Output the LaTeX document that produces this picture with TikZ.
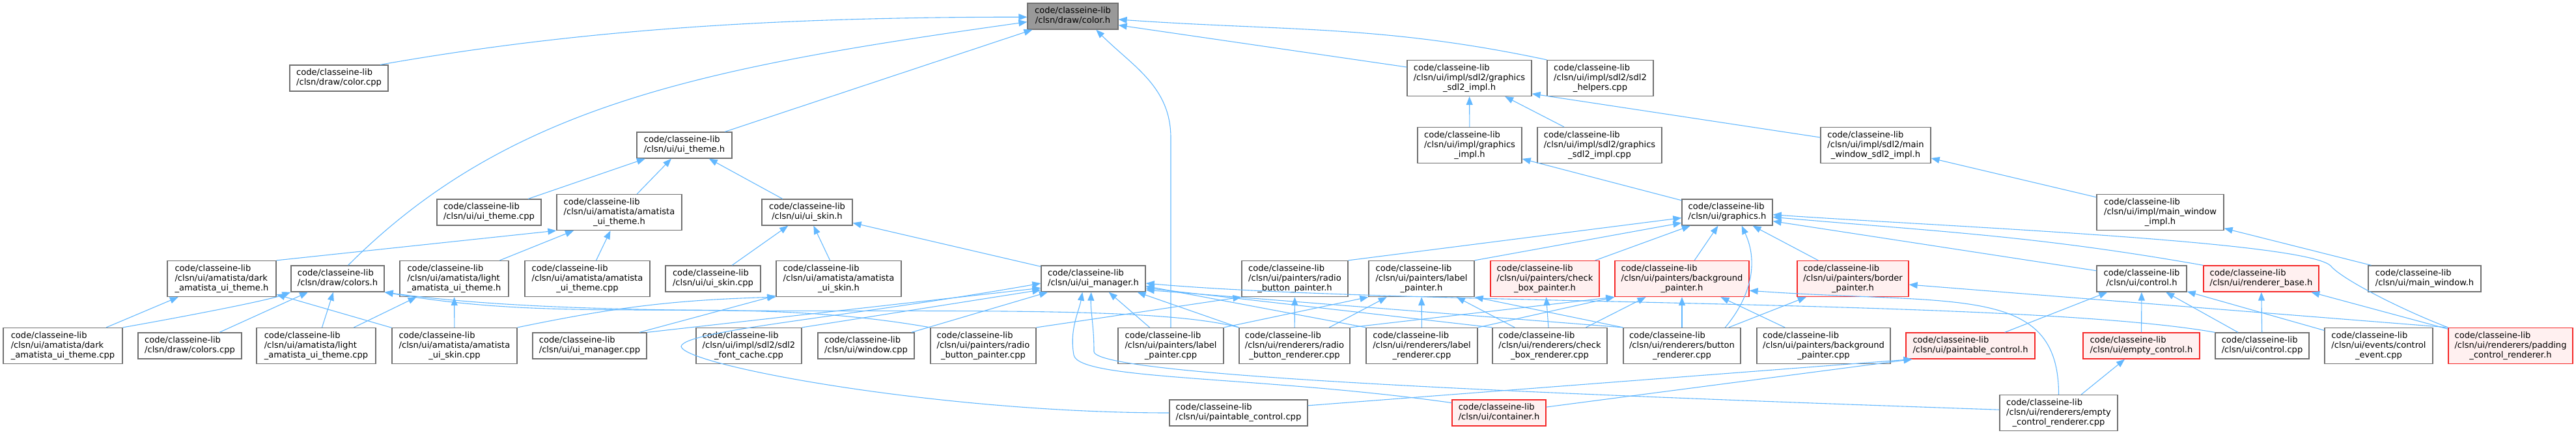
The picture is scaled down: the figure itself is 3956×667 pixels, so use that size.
\documentclass[tikz,border=0pt]{standalone}
\usepackage{fontspec}
\setmainfont{DejaVu Sans}
\usetikzlibrary{arrows.meta}
\definecolor{edgeblue}{RGB}{99,184,255}
\definecolor{boxgray}{RGB}{112,112,112}
\definecolor{rootfill}{RGB}{153,153,153}
\definecolor{cutred}{RGB}{245,40,40}
\definecolor{cutfill}{RGB}{255,240,240}
\newcommand{\lib}{code/classeine-lib}
\newcommand{\flabel}[2]{\begin{tabular}{@{}l@{}}#1\\\multicolumn{1}{@{}c@{}}{#2}\end{tabular}}

\begin{document}
\begin{tikzpicture}[
  x=1pt, y=1pt,
  file/.style={draw=boxgray, line width=1.3pt, fill=white, inner sep=0pt,
    minimum height=40pt, font=\fontsize{13.1}{15}\selectfont},
  tall/.style={minimum height=55pt},
  root/.style={fill=rootfill},
  cut/.style={draw=cutred, fill=cutfill},
  dep/.style={draw=edgeblue, line width=1.1pt, -{Triangle[length=13pt,width=10pt]}}
]
\useasboundingbox (0,0) rectangle (3956,-667);

% top
\node[file, root, minimum width=139pt] (colorh) at (1647.5,-25) {\flabel{\lib}{/clsn/draw/color.h}};
\node[file, minimum width=151pt] (colorcpp) at (520.5,-120) {\flabel{\lib}{/clsn/draw/color.cpp}};
\node[file, tall, minimum width=191pt] (gsdlh) at (2256.5,-120) {\flabel{\lib\\/clsn/ui/impl/sdl2/graphics}{\_sdl2\_impl.h}};
\node[file, tall, minimum width=163pt] (helpercpp) at (2457.5,-120) {\flabel{\lib\\/clsn/ui/impl/sdl2/sdl2}{\_helpers.cpp}};
\node[file, minimum width=146pt] (uithemeh) at (1051,-223) {\flabel{\lib}{/clsn/ui/ui\_theme.h}};
\node[file, tall, minimum width=160pt] (gimplh) at (2257,-223) {\flabel{\lib\\/clsn/ui/impl/graphics}{\_impl.h}};
\node[file, tall, minimum width=191pt] (gsdlcpp) at (2456.5,-223) {\flabel{\lib\\/clsn/ui/impl/sdl2/graphics}{\_sdl2\_impl.cpp}};
\node[file, tall, minimum width=169pt] (mwsdlh) at (2880.5,-223) {\flabel{\lib\\/clsn/ui/impl/sdl2/main}{\_window\_sdl2\_impl.h}};
\node[file, minimum width=160pt] (uithemecpp) at (751,-326) {\flabel{\lib}{/clsn/ui/ui\_theme.cpp}};
\node[file, tall, minimum width=192pt] (amathemeh) at (951,-326) {\flabel{\lib\\/clsn/ui/amatista/amatista}{\_ui\_theme.h}};
\node[file, minimum width=139pt] (uiskinh) at (1239.5,-326) {\flabel{\lib}{/clsn/ui/ui\_skin.h}};
\node[file, minimum width=139pt] (graphicsh) at (2652.5,-326) {\flabel{\lib}{/clsn/ui/graphics.h}};
\node[file, tall, minimum width=195pt] (mwimplh) at (3317.5,-326) {\flabel{\lib\\/clsn/ui/impl/main\_window}{\_impl.h}};

% headers row
\node[file, tall, minimum width=167pt] (darkh) at (340.5,-428) {\flabel{\lib\\/clsn/ui/amatista/dark}{\_amatista\_ui\_theme.h}};
\node[file, minimum width=143pt] (colorsh) at (518.5,-428) {\flabel{\lib}{/clsn/draw/colors.h}};
\node[file, tall, minimum width=167pt] (lighth) at (697.5,-428) {\flabel{\lib\\/clsn/ui/amatista/light}{\_amatista\_ui\_theme.h}};
\node[file, tall, minimum width=192pt] (amathemecpp) at (902,-428) {\flabel{\lib\\/clsn/ui/amatista/amatista}{\_ui\_theme.cpp}};
\node[file, minimum width=146pt] (uiskincpp) at (1095,-428) {\flabel{\lib}{/clsn/ui/ui\_skin.cpp}};
\node[file, tall, minimum width=192pt] (amaskinh) at (1288,-428) {\flabel{\lib\\/clsn/ui/amatista/amatista}{\_ui\_skin.h}};
\node[file, minimum width=160pt] (uimgrh) at (1679,-428) {\flabel{\lib}{/clsn/ui/ui\_manager.h}};
\node[file, tall, minimum width=163pt] (rbph) at (1988.5,-428) {\flabel{\lib\\/clsn/ui/painters/radio}{\_button\_painter.h}};
\node[file, tall, minimum width=162pt] (lph) at (2183,-428) {\flabel{\lib\\/clsn/ui/painters/label}{\_painter.h}};
\node[file, tall, cut, minimum width=167pt] (cbph) at (2372.5,-428) {\flabel{\lib\\/clsn/ui/painters/check}{\_box\_painter.h}};
\node[file, tall, cut, minimum width=206pt] (bgph) at (2583,-428) {\flabel{\lib\\/clsn/ui/painters/background}{\_painter.h}};
\node[file, tall, cut, minimum width=171pt] (borderh) at (2845.5,-428) {\flabel{\lib\\/clsn/ui/painters/border}{\_painter.h}};
\node[file, minimum width=138pt] (controlh) at (3289,-428) {\flabel{\lib}{/clsn/ui/control.h}};
\node[file, cut, minimum width=177pt] (rbaseh) at (3472.5,-428) {\flabel{\lib}{/clsn/ui/renderer\_base.h}};
\node[file, minimum width=173pt] (mwh) at (3723.5,-428) {\flabel{\lib}{/clsn/ui/main\_window.h}};

% sources row
\node[file, tall, minimum width=183pt] (darkcpp) at (96.5,-531) {\flabel{\lib\\/clsn/ui/amatista/dark}{\_amatista\_ui\_theme.cpp}};
\node[file, minimum width=159pt] (colorscpp) at (291.5,-531) {\flabel{\lib}{/clsn/draw/colors.cpp}};
\node[file, tall, minimum width=183pt] (lightcpp) at (485.5,-531) {\flabel{\lib\\/clsn/ui/amatista/light}{\_amatista\_ui\_theme.cpp}};
\node[file, tall, minimum width=192pt] (amaskincpp) at (698,-531) {\flabel{\lib\\/clsn/ui/amatista/amatista}{\_ui\_skin.cpp}};
\node[file, minimum width=175pt] (uimgrcpp) at (905.5,-531) {\flabel{\lib}{/clsn/ui/ui\_manager.cpp}};
\node[file, tall, minimum width=162pt] (fontcpp) at (1150,-531) {\flabel{\lib\\/clsn/ui/impl/sdl2/sdl2}{\_font\_cache.cpp}};
\node[file, minimum width=148pt] (windowcpp) at (1330,-531) {\flabel{\lib}{/clsn/ui/window.cpp}};
\node[file, tall, minimum width=162pt] (rbpcpp) at (1510,-531) {\flabel{\lib\\/clsn/ui/painters/radio}{\_button\_painter.cpp}};
\node[file, tall, minimum width=162pt] (lpcpp) at (1798,-531) {\flabel{\lib\\/clsn/ui/painters/label}{\_painter.cpp}};
\node[file, tall, minimum width=170pt] (rbrcpp) at (1988,-531) {\flabel{\lib\\/clsn/ui/renderers/radio}{\_button\_renderer.cpp}};
\node[file, tall, minimum width=171pt] (lrcpp) at (2183.5,-531) {\flabel{\lib\\/clsn/ui/renderers/label}{\_renderer.cpp}};
\node[file, tall, minimum width=176pt] (cbrcpp) at (2380,-531) {\flabel{\lib\\/clsn/ui/renderers/check}{\_box\_renderer.cpp}};
\node[file, tall, minimum width=180pt] (brcpp) at (2583,-531) {\flabel{\lib\\/clsn/ui/renderers/button}{\_renderer.cpp}};
\node[file, tall, minimum width=205pt] (bgpcpp) at (2800.5,-531) {\flabel{\lib\\/clsn/ui/painters/background}{\_painter.cpp}};
\node[file, cut, minimum width=198pt] (pch) at (3026,-531) {\flabel{\lib}{/clsn/ui/paintable\_control.h}};
\node[file, cut, minimum width=179pt] (ech) at (3288.5,-531) {\flabel{\lib}{/clsn/ui/empty\_control.h}};
\node[file, minimum width=144pt] (controlcpp) at (3474,-531) {\flabel{\lib}{/clsn/ui/control.cpp}};
\node[file, tall, minimum width=166pt] (ceventcpp) at (3653,-531) {\flabel{\lib\\/clsn/ui/events/control}{\_event.cpp}};
\node[file, tall, cut, minimum width=191pt] (paddingh) at (3855.5,-531) {\flabel{\lib\\/clsn/ui/renderers/padding}{\_control\_renderer.h}};

% bottom
\node[file, minimum width=212pt] (pccpp) at (1902,-634) {\flabel{\lib}{/clsn/ui/paintable\_control.cpp}};
\node[file, cut, minimum width=144pt] (containerh) at (2302,-634) {\flabel{\lib}{/clsn/ui/container.h}};
\node[file, tall, minimum width=181pt] (ecrcpp) at (3161.5,-634) {\flabel{\lib\\/clsn/ui/renderers/empty}{\_control\_renderer.cpp}};

\coordinate (padbend) at (3580,-409);
\coordinate (pcbend) at (1046,-532);
\coordinate (ctbend) at (1649,-545);
\coordinate (ecbend) at (1680,-540);

% color.h
\draw[dep] (colorcpp.18) .. controls +(10:300) and +(180:400) .. (colorh.181);
\draw[dep] (colorsh.52) .. controls +(45:350) and +(188:500) .. (colorh.187);
\draw[dep] (uithemeh) -- (colorh);
\draw[dep] (gsdlh.170) -- (colorh.349);
\draw[dep] (helpercpp.north west) to[out=168,in=-4] (colorh.356);
\draw[dep] (lpcpp.north) -- ++(0,291) to[out=90,in=-45] (colorh.330);

% themes and skins
\draw[dep] (uithemecpp) -- (uithemeh);
\draw[dep] (amathemeh) -- (uithemeh);
\draw[dep] (uiskinh) -- (uithemeh);
\draw[dep] (darkh.north east) -- (amathemeh.south west);
\draw[dep] (lighth) -- (amathemeh);
\draw[dep] (amathemecpp) -- (amathemeh);
\draw[dep] (uiskincpp) -- (uiskinh);
\draw[dep] (amaskinh) -- (uiskinh);
\draw[dep] (uimgrh) -- (uiskinh);
\draw[dep] (darkcpp) -- (darkh);
\draw[dep] (amaskincpp) -- (darkh);
\draw[dep] (lightcpp) -- (lighth);
\draw[dep] (amaskincpp) -- (lighth);
\draw[dep] (amaskincpp.north east) to[bend left=5] (amaskinh.south west);
\draw[dep] (uimgrcpp) -- (amaskinh);

% colors.h
\draw[dep] (darkcpp.north east) .. controls +(10:80) and +(200:40) .. (colorsh.south west);
\draw[dep] (colorscpp) -- (colorsh);
\draw[dep] (lightcpp) -- (colorsh);
\draw[dep] (rbpcpp.north west) .. controls +(170:300) and +(-10:300) .. (colorsh.south east);
\draw[dep] (rbrcpp.north west) .. controls +(165:200) and +(-8:400) .. (colorsh.south east);

% sdl2 impl
\draw[dep] (gimplh) -- (gsdlh);
\draw[dep] (gsdlcpp) -- (gsdlh);
\draw[dep] (mwsdlh.172) -- (gsdlh.-14);
\draw[dep] (graphicsh) -- (gimplh);
\draw[dep] (mwimplh) -- (mwsdlh);
\draw[dep] (mwh) -- (mwimplh);

% graphics.h
\draw[dep] (rbph.north east) -- (graphicsh.187);
\draw[dep] (lph.north east) -- (graphicsh.193);
\draw[dep] (cbph) -- (graphicsh);
\draw[dep] (bgph) -- (graphicsh);
\draw[dep] (borderh) -- (graphicsh);
\draw[dep] (controlh.170) -- (graphicsh.-11);
\draw[dep] (rbaseh.north west) to[out=170,in=-5] (graphicsh.-6);
\draw[dep] (paddingh.north west) .. controls +(159:80) and +(-50:25) .. (padbend)
  .. controls +(130:50) and +(-4:250) .. (graphicsh.-3);
\draw[dep] (brcpp.23) to[out=50,in=-65] (graphicsh.-43);

% ui_manager.h
\draw[dep] (uimgrcpp.north east) -- (uimgrh.190);
\draw[dep] (fontcpp.north east) -- (uimgrh.192);
\draw[dep] (windowcpp) -- (uimgrh);
\draw[dep] (pccpp.west) .. controls +(180:350) and +(-80:30) .. (pcbend)
  .. controls +(80:25) and +(190:300) .. (uimgrh.185);
\draw[dep] (lpcpp) -- (uimgrh);
\draw[dep] (rbrcpp.north west) -- (uimgrh.-17);
\draw[dep] (lrcpp.north west) -- (uimgrh.-8);
\draw[dep] (cbrcpp.north west) -- (uimgrh.-10);
\draw[dep] (brcpp.north west) -- (uimgrh.-12);
\draw[dep] (controlcpp.north west) .. controls +(170:300) and +(-5:400) .. (uimgrh.-5);
\draw[dep] (containerh.168) .. controls +(172:300) and +(-80:40) .. (ctbend)
  .. controls +(100:40) and +(-100:30) .. (uimgrh.-129);
\draw[dep] (ecrcpp.177) .. controls +(178:600) and +(-85:40) .. (ecbend)
  .. controls +(90:40) and +(-92:30) .. (uimgrh.-99);

% painters
\draw[dep] (rbpcpp.north east) -- (rbph.south west);
\draw[dep] (rbrcpp) -- (rbph);
\draw[dep] (lpcpp.north east) -- (lph.south west);
\draw[dep] (rbrcpp) -- (lph);
\draw[dep] (lrcpp) -- (lph);
\draw[dep] (cbrcpp) -- (lph);
\draw[dep] (brcpp.north west) -- (lph.south east);
\draw[dep] (cbrcpp) -- (cbph);
\draw[dep] (rbrcpp.north east) -- (bgph.south west);
\draw[dep] (lrcpp.north east) -- (bgph.south west);
\draw[dep] (cbrcpp) -- (bgph);
\draw[dep] (brcpp) -- (bgph);
\draw[dep] (bgpcpp) -- (bgph);
\draw[dep] (ecrcpp.north) .. controls +(90:170) and +(-4:320) .. (bgph.-10);
\draw[dep] (brcpp) -- (borderh);
\draw[dep] (paddingh.north west) -- (borderh.-6);

% controls
\draw[dep] (pch) -- (controlh);
\draw[dep] (ech) -- (controlh);
\draw[dep] (controlcpp) -- (controlh);
\draw[dep] (ceventcpp) -- (controlh);
\draw[dep] (controlcpp) -- (rbaseh);
\draw[dep] (paddingh) -- (rbaseh);
\draw[dep] (pccpp.6) -- (pch.-167);
\draw[dep] (containerh.7) -- (pch.-167);
\draw[dep] (ecrcpp) -- (ech);
\end{tikzpicture}
\end{document}
